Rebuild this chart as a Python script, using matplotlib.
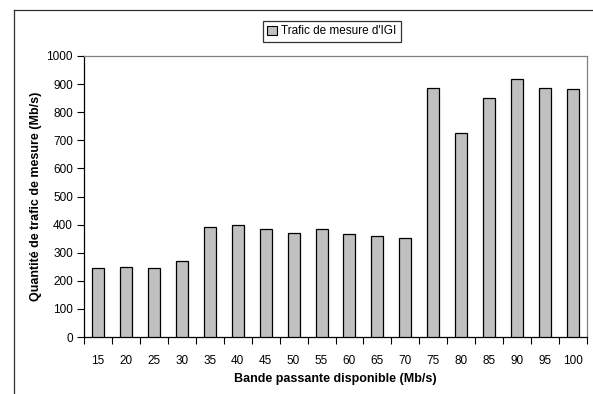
import matplotlib
matplotlib.use("Agg")
import matplotlib.pyplot as plt
from matplotlib.lines import Line2D
from matplotlib.patches import Patch
import numpy as np

categories = ["15", "20", "25", "30", "35", "40", "45", "50", "55", "60",
              "65", "70", "75", "80", "85", "90", "95", "100"]
values = [244, 248, 244, 272, 390, 397, 383, 370, 383, 368,
          360, 352, 886, 725, 850, 918, 886, 882]
series_name = "Trafic de mesure d'IGI"
y_ticks = [0, 100, 200, 300, 400, 500, 600, 700, 800, 900, 1000]

plt.rcParams['font.family'] = ['Liberation Sans', 'DejaVu Sans']

W, H = 593, 394
fig = plt.figure(figsize=(W / 100, H / 100), dpi=100)
fig.patch.set_facecolor('white')

ax = fig.add_axes([84 / W, (H - 337) / H, 503 / W, 281 / H])
x = np.arange(len(categories))
ax.bar(x, values, width=0.43, color='#C0C0C0', edgecolor='black', linewidth=0.9, zorder=3)

ax.set_xlim(-0.5, len(categories) - 0.5)
ax.set_ylim(0, 1000)
ax.set_yticks(y_ticks)
ax.set_yticklabels([str(v) for v in y_ticks], fontsize=8.5)
ax.tick_params(axis='y', direction='out', length=5, width=0.8, pad=3)

ax.set_xticks(x)
ax.set_xticklabels(categories, fontsize=8.5)
ax.tick_params(axis='x', which='major', length=0, pad=13)
ax.set_xticks(np.arange(-0.5, len(categories)), minor=True)
ax.tick_params(axis='x', which='minor', direction='out', length=5, width=0.8)

for s in ['left', 'bottom']:
    ax.spines[s].set_color('black')
    ax.spines[s].set_linewidth(0.9)
for s in ['top', 'right']:
    ax.spines[s].set_color('#808080')
    ax.spines[s].set_linewidth(0.9)

ax.set_ylabel("Quantité de trafic de mesure (Mb/s)", fontsize=9, fontweight='bold', labelpad=3)
ax.set_xlabel("Bande passante disponible (Mb/s)", fontsize=9, fontweight='bold', labelpad=4)

handle = Patch(facecolor='#C0C0C0', edgecolor='black', linewidth=0.8)
leg = fig.legend([handle], [series_name], loc='center',
                 bbox_to_anchor=(332 / W, 1 - 31.5 / H), fontsize=8.5,
                 frameon=True, fancybox=False, handlelength=0.8, handleheight=0.8,
                 handletextpad=0.4, borderpad=0.4, borderaxespad=0)
leg.get_frame().set_edgecolor('black')
leg.get_frame().set_linewidth(0.9)

# outer chart border (cropped)
fig.add_artist(Line2D([13.5 / W, 13.5 / W], [0, 1 - 9.5 / H], color='#303030', linewidth=0.9))
fig.add_artist(Line2D([13.5 / W, 1], [1 - 9.5 / H, 1 - 9.5 / H], color='#303030', linewidth=0.9))

fig.savefig("out.png", dpi=100)
